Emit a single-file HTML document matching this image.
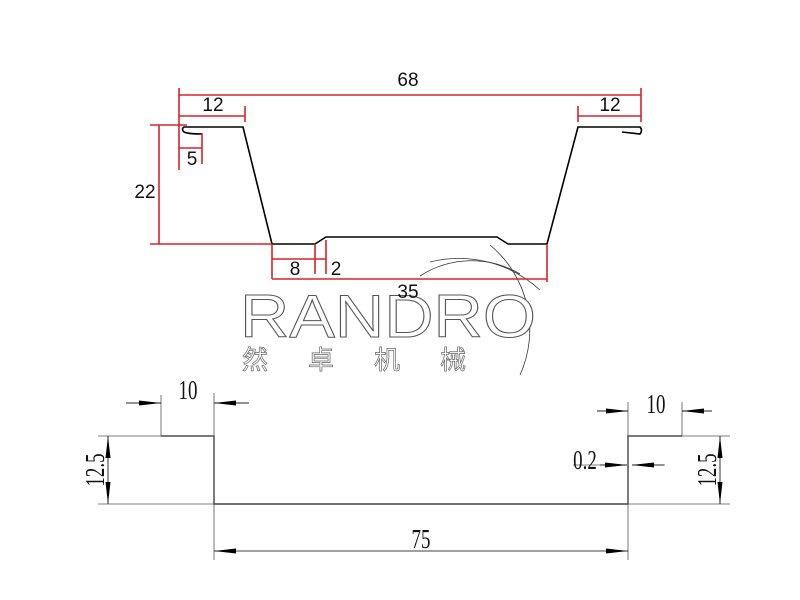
<!DOCTYPE html>
<html><head><meta charset="utf-8"><style>
html,body{margin:0;padding:0;background:#fff;width:800px;height:600px;overflow:hidden}
svg{display:block}
</style></head><body>
<svg width="800" height="600" viewBox="0 0 800 600" xmlns="http://www.w3.org/2000/svg">
<defs>
<marker id="a" viewBox="0 0 22 8" refX="22" refY="4" markerWidth="22" markerHeight="8" markerUnits="userSpaceOnUse" orient="auto"><path d="M0,1.5 L22,4 L0,6.5 Z" fill="#000"/></marker>
</defs>
<g fill="none" stroke="#333" stroke-width="0.8">
<path d="M420,276 A95,95 0 0 1 520,274"/>
<path d="M430,262 A120,120 0 0 1 540,290"/>
<path d="M490,245 A110,110 0 0 1 520,375"/>
</g>
<text x="240" y="337" font-family="Liberation Sans,sans-serif" font-size="60" textLength="296" lengthAdjust="spacingAndGlyphs" fill="#fff" stroke="#555" stroke-width="1">RANDRO</text>
<g font-family="Liberation Sans,'Noto Sans CJK SC',sans-serif" font-size="26" fill="#fff" stroke="#666" stroke-width="0.7">
<text x="242" y="369">然</text><text x="308" y="369">卓</text><text x="374" y="369">机</text><text x="440" y="369">械</text>
</g>
<path d="M202,134 Q188,134 184,132 Q181,129 184,127 L243,127 L272,244 L315,244 L326,237 L497,237 L508,244 L547,244 L578,127 L640,127 Q643,130 640,134 L622,132" fill="none" stroke="#000" stroke-width="1.6"/>
<g stroke="#d8232a" stroke-width="1.6" fill="none">
<path d="M179,88 V170 M641,88 V122 M179,95 H641 M179,116 H245 M245,106 V122 M578,106 V122 M578,116 H641"/>
<path d="M150,125 H187 M150,244 H272 M159,125 V244"/>
<path d="M202,133 V164 M179,148 H202"/>
<path d="M272,244 V279 M315,244 V274 M326,240 V274 M272,259 H326 M547,244 V282 M272,279 H547"/>
</g>
<g font-family="Liberation Sans,sans-serif" font-size="19" fill="#111" text-anchor="middle">
<text x="408" y="86">68</text><text x="213" y="111">12</text><text x="610" y="111">12</text>
<text x="145" y="198">22</text><text x="192" y="165">5</text><text x="295" y="275">8</text><text x="336" y="275">2</text><text x="408" y="298">35</text>
</g>
<path d="M161,436 H214 V504 H628 V436 H682" fill="none" stroke="#444" stroke-width="1.4"/>
<g stroke="#555" stroke-width="0.8" fill="none">
<path d="M98,436 H214 M98,504 H214 M628,436 H730 M628,504 H730"/>
<path d="M161,395 V436 M214,393 V436 M628,402 V436 M682,402 V436 M214,504 V560 M628,504 V560"/>
<path d="M126,403 H161 M249,403 H214 M597,411 H628 M712,411 H682"/>
<path d="M573,465 H627 M665,465 H632"/>
</g>
<g stroke="#000" stroke-width="0.8" fill="none">
<path d="M126,403 H161" marker-end="url(#a)"/><path d="M249,403 H214" marker-end="url(#a)"/>
<path d="M597,411 H628" marker-end="url(#a)"/><path d="M712,411 H682" marker-end="url(#a)"/>
<path d="M600,465 H627" marker-end="url(#a)"/><path d="M664,465 H632" marker-end="url(#a)"/>
<path d="M108,470 V436" marker-end="url(#a)"/><path d="M108,470 V504" marker-end="url(#a)"/>
<path d="M720,470 V436" marker-end="url(#a)"/><path d="M720,470 V504" marker-end="url(#a)"/>
<path d="M421,551 H214" marker-end="url(#a)"/><path d="M421,551 H628" marker-end="url(#a)"/>
</g>
<g font-family="Liberation Serif,serif" font-size="27" fill="#111" text-anchor="middle">
<text x="188" y="399" transform="translate(188 0) scale(0.7 1) translate(-188 0)">10</text>
<text x="656" y="413" transform="translate(656 0) scale(0.7 1) translate(-656 0)">10</text>
<text x="585" y="469" transform="translate(585 0) scale(0.7 1) translate(-585 0)">0.2</text>
<text x="421" y="548" transform="translate(421 0) scale(0.7 1) translate(-421 0)">75</text>
<text x="0" y="0" text-anchor="middle" transform="translate(104 470) rotate(-90) scale(0.7 1)">12.5</text>
<text x="0" y="0" text-anchor="middle" transform="translate(716 470) rotate(-90) scale(0.7 1)">12.5</text>
</g>
</svg>
</body></html>
